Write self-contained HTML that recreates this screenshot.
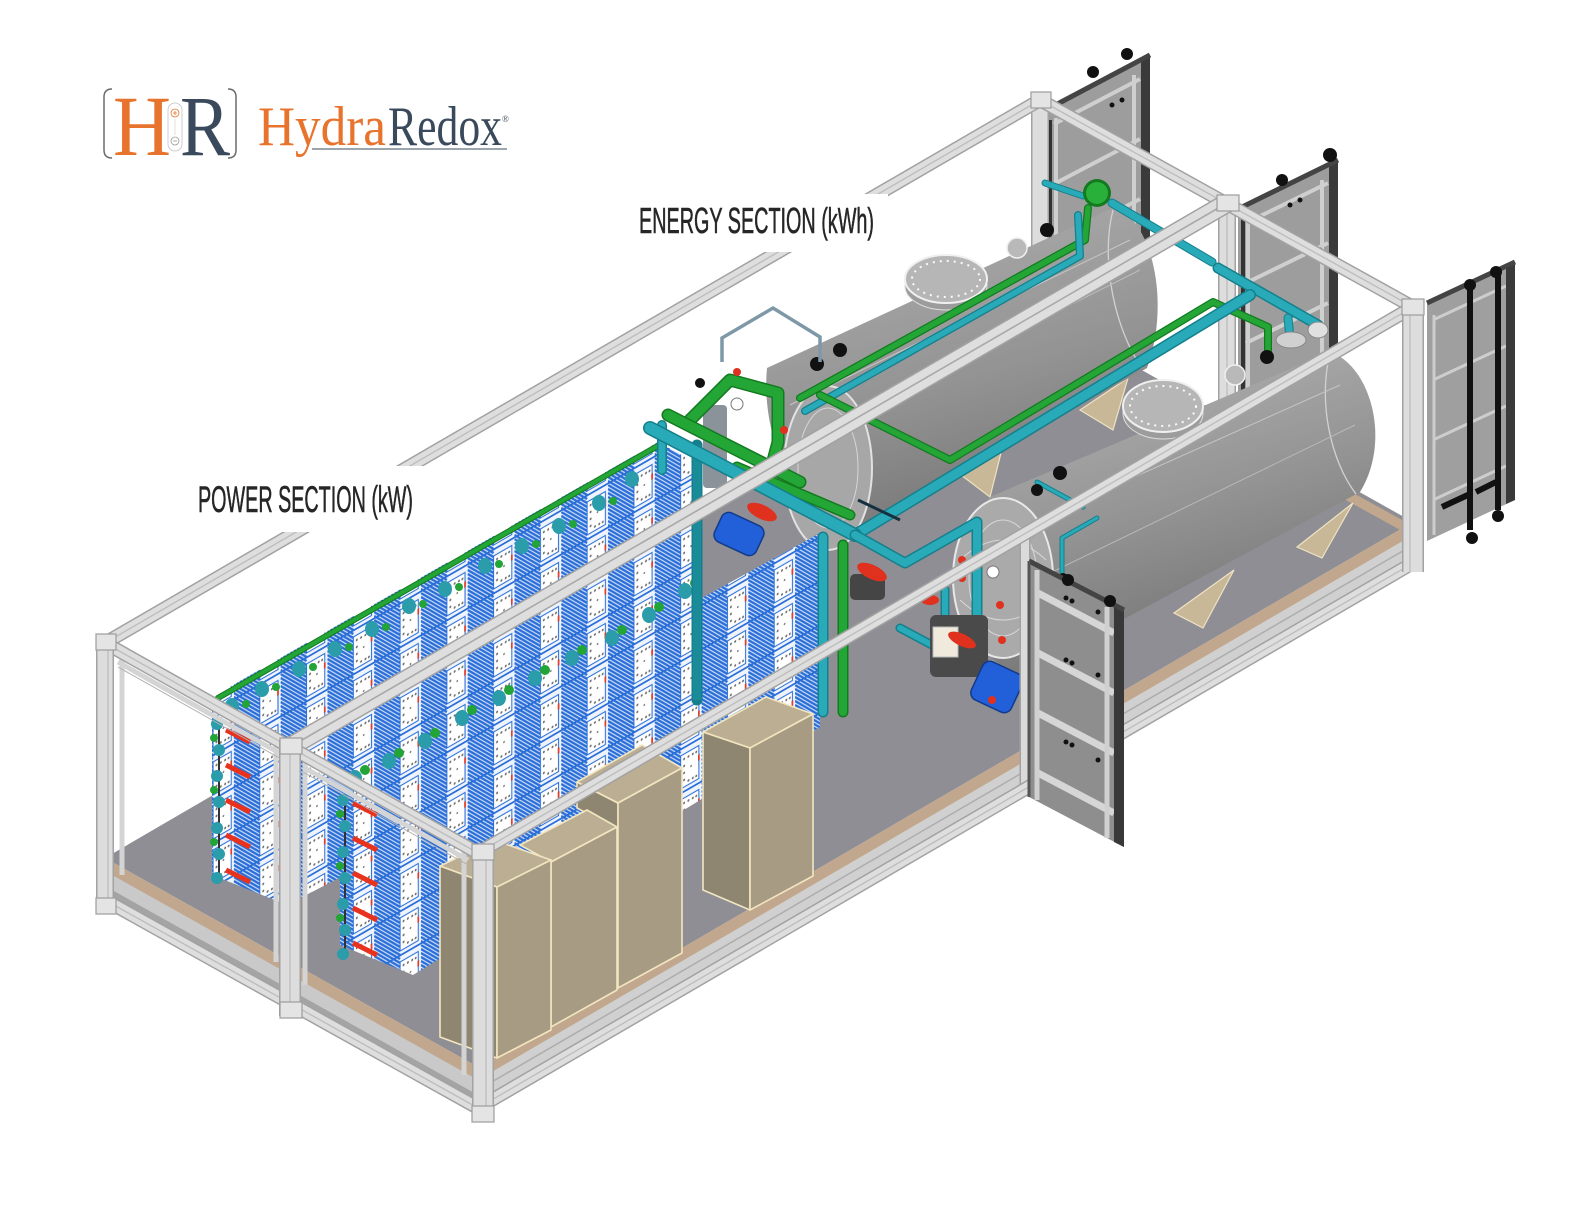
<!DOCTYPE html>
<html><head><meta charset="utf-8"><style>
html,body{margin:0;padding:0;background:#fff;}
svg{display:block;}
.ro{stroke:#a2a2a2;stroke-width:14;fill:none}
.ri{stroke:#dedede;stroke-width:11;fill:none}
.rl{stroke:#bcbcbc;stroke-width:1.3;fill:none}
.po{stroke:#a2a2a2;stroke-width:18}
.pi{stroke:#dddddd;stroke-width:15}
.pl{stroke:#bdbdbd;stroke-width:1.3}
.td{stroke:#157f8c;fill:none;stroke-linecap:round;stroke-linejoin:round}
.tm{stroke:#28aab9;fill:none;stroke-linecap:round;stroke-linejoin:round}
.gd{stroke:#137a20;fill:none;stroke-linecap:round;stroke-linejoin:round}
.gm{stroke:#24a636;fill:none;stroke-linecap:round;stroke-linejoin:round}
.cab{stroke:#f2e6c0;stroke-width:1.6;stroke-linejoin:round}
.sad{fill:#c8b898;stroke:#eee3c2;stroke-width:1.2}
.kn{fill:#111}
</style></head><body>
<svg width="1587" height="1206" viewBox="0 0 1587 1206" xmlns="http://www.w3.org/2000/svg">
<defs>
<linearGradient id="g1" gradientUnits="userSpaceOnUse" x1="900" y1="250" x2="970" y2="500">
<stop offset="0" stop-color="#a6a6a6"/><stop offset="0.55" stop-color="#939393"/><stop offset="1" stop-color="#7b7b7b"/></linearGradient>
<linearGradient id="g2" gradientUnits="userSpaceOnUse" x1="1150" y1="390" x2="1215" y2="610">
<stop offset="0" stop-color="#a8a8a8"/><stop offset="0.5" stop-color="#949494"/><stop offset="1" stop-color="#7c7c7c"/></linearGradient>
<pattern id="stk" patternUnits="userSpaceOnUse" width="54" height="44" patternTransform="matrix(0.866 -0.5 0 1 0 0)">
<rect width="54" height="44" fill="#eef3fc"/>
<path d="M0,-40L30,-10M0,-36L30,-6M0,-32L30,-2M0,-28L30,2M0,-24L30,6M0,-20L30,10M0,-16L30,14M0,-12L30,18M0,-8L30,22M0,-4L30,26M0,0L30,30M0,4L30,34M0,8L30,38M0,12L30,42M0,16L30,46M0,20L30,50M0,24L30,54M0,28L30,58M0,32L30,62M0,36L30,66M0,40L30,70" stroke="#2a6ed8" stroke-width="2"/>
<rect x="30" y="5" width="21" height="33" fill="#fff" stroke="#2a6ed8" stroke-width="1.2"/>
<g fill="#707070"><circle cx="34" cy="10" r="1.2"/><circle cx="39" cy="10" r="1.2"/><circle cx="44" cy="10" r="1.2"/><circle cx="48" cy="10" r="1.2"/><circle cx="34" cy="17" r="1.2"/><circle cx="34" cy="24" r="1.2"/><circle cx="34" cy="31" r="1.2"/><circle cx="39" cy="34" r="1.2"/><circle cx="44" cy="34" r="1.2"/><circle cx="48" cy="34" r="1.2"/><circle cx="42" cy="21" r="1"/></g>
<rect x="50" y="14" width="2" height="6" fill="#e0402a"/>
<path d="M0,42.5H54" stroke="#2a6ed8" stroke-width="2"/>
</pattern>
</defs>
<rect width="1587" height="1206" fill="#fff"/>

<!-- far doors -->
<g>
<polygon points="1046,110 1150,55 1150,300 1046,355" fill="#9d9d9d"/>
<g stroke="#cfcfcf" stroke-width="4"><line x1="1054" y1="124" x2="1140" y2="79"/><line x1="1054" y1="184" x2="1140" y2="139"/><line x1="1054" y1="244" x2="1140" y2="199"/><line x1="1056" y1="118" x2="1056" y2="340"/><line x1="1134" y1="75" x2="1134" y2="300"/></g>
<polygon points="1141,60 1150,55 1150,300 1141,305" fill="#3a3a3a"/>
<line x1="1046" y1="110" x2="1150" y2="55" stroke="#444" stroke-width="5"/>
<line x1="1050" y1="120" x2="1050" y2="330" stroke="#333" stroke-width="4"/>
<circle class="kn" cx="1093" cy="72" r="6"/><circle class="kn" cx="1127" cy="54" r="6"/>
<circle class="kn" cx="1112" cy="105" r="2.5"/><circle class="kn" cx="1122" cy="100" r="2.5"/><circle class="kn" cx="1130" cy="150" r="2.5"/>
</g>
<g>
<polygon points="1238,209 1338,160 1338,400 1238,449" fill="#9d9d9d"/>
<g stroke="#cfcfcf" stroke-width="4"><line x1="1246" y1="223" x2="1328" y2="183"/><line x1="1246" y1="283" x2="1328" y2="243"/><line x1="1246" y1="343" x2="1328" y2="303"/><line x1="1248" y1="218" x2="1248" y2="440"/><line x1="1322" y1="180" x2="1322" y2="400"/></g>
<polygon points="1329,165 1338,160 1338,400 1329,405" fill="#3a3a3a"/>
<line x1="1238" y1="209" x2="1338" y2="160" stroke="#444" stroke-width="5"/>
<line x1="1243" y1="215" x2="1243" y2="440" stroke="#333" stroke-width="4"/>
<circle class="kn" cx="1282" cy="180" r="6"/><circle class="kn" cx="1330" cy="155" r="7"/>
<circle class="kn" cx="1290" cy="205" r="2.5"/><circle class="kn" cx="1300" cy="200" r="2.5"/><circle class="kn" cx="1320" cy="250" r="2.5"/>
</g>
<g>
<polygon points="1427,303 1515,262 1515,500 1427,541" fill="#9f9f9f"/>
<g stroke="#cdcdcd" stroke-width="3"><line x1="1433" y1="320" x2="1506" y2="286"/><line x1="1433" y1="380" x2="1506" y2="346"/><line x1="1433" y1="440" x2="1506" y2="406"/><line x1="1433" y1="500" x2="1506" y2="466"/><line x1="1434" y1="315" x2="1434" y2="535"/></g>
<polygon points="1506,266 1515,262 1515,500 1506,504" fill="#3a3a3a"/>
<line x1="1427" y1="303" x2="1515" y2="262" stroke="#444" stroke-width="5"/>
<line x1="1470" y1="287" x2="1470" y2="530" stroke="#111" stroke-width="6"/>
<line x1="1498" y1="275" x2="1498" y2="510" stroke="#111" stroke-width="6"/>
<line x1="1442" y1="507" x2="1470" y2="494" stroke="#111" stroke-width="6"/>
<line x1="1476" y1="492" x2="1496" y2="482" stroke="#111" stroke-width="6"/>
<circle class="kn" cx="1470" cy="285" r="6"/><circle class="kn" cx="1496" cy="272" r="6"/><circle class="kn" cx="1472" cy="538" r="6"/><circle class="kn" cx="1498" cy="516" r="6"/>
</g>

<!-- far posts behind tanks -->
<line class="po" x1="1040" y1="100" x2="1040" y2="370"/><line class="pi" x1="1040" y1="100" x2="1040" y2="370"/>
<line class="po" x1="1227" y1="203" x2="1227" y2="470"/><line class="pi" x1="1227" y1="203" x2="1227" y2="470"/><line class="pl" x1="1227" y1="203" x2="1227" y2="470"/>

<!-- floor & base -->
<polygon points="105,858 478,1067 1413,522 1040,313" fill="#8f8e94"/>
<polygon points="105,870 478,1079 478,1113 105,905" fill="#c9c9c9"/>
<line x1="105" y1="890" x2="478" y2="1099" stroke="#a4a4a4" stroke-width="7"/>
<polygon points="478,1079 1413,534 1413,568 478,1113" fill="#d0d0d0"/>
<line x1="478" y1="1090" x2="1413" y2="545" stroke="#adadad" stroke-width="1.5"/>
<line x1="478" y1="1102" x2="1413" y2="557" stroke="#adadad" stroke-width="1.5"/>
<polygon points="105,858 478,1067 478,1080 105,871" fill="#c1a78d"/>
<polygon points="478,1067 1413,522 1413,535 478,1080" fill="#c1a78d"/>
<polygon points="1335,483 1413,526 1413,537 1335,494" fill="#c1a78d"/>

<!-- tank 1 -->
<polygon class="sad" points="1080,410 1128,378 1113,430"/>
<polygon class="sad" points="957,472 1003,445 990,497"/>
<path d="M767,368 L1113,208 C1150,215 1172,300 1147,368 L850,532 C800,525 760,440 767,368 Z" fill="url(#g1)"/>
<path d="M1113,210 C1100,260 1115,330 1142,368" stroke="#d2d2d2" stroke-width="1.3" fill="none"/>
<path d="M790,405 L1130,240" stroke="#c6c6c6" stroke-width="1" fill="none"/>
<path d="M800,440 L1140,270" stroke="#bdbdbd" stroke-width="1" fill="none"/>
<ellipse cx="828" cy="468" rx="44" ry="82" fill="#a7a7a7" stroke="#e2e2e2" stroke-width="2"/>
<ellipse cx="828" cy="468" rx="30" ry="60" fill="none" stroke="#d6d6d6" stroke-width="1"/>
<ellipse cx="946" cy="286" rx="41" ry="24" fill="#9c9c9c" stroke="#dedede"/>
<ellipse cx="946" cy="279" rx="41" ry="24" fill="#b6b6b6" stroke="#f0f0f0" stroke-width="2"/>
<ellipse cx="946" cy="279" rx="34" ry="18" fill="none" stroke="#fafafa" stroke-width="2" stroke-dasharray="2 5"/>
<circle cx="1017" cy="248" r="10" fill="#b9b9b9" stroke="#efefef" stroke-width="1.5"/>

<!-- tank 2 -->
<polygon class="sad" points="1297,547 1353,503 1322,558"/>
<polygon class="sad" points="1174,613 1234,570 1203,628"/>
<path d="M990,497 L1330,352 C1370,365 1392,440 1360,492 L1020,675 C965,660 945,560 990,497 Z" fill="url(#g2)"/>
<path d="M1330,354 C1318,400 1330,460 1356,494" stroke="#d2d2d2" stroke-width="1.3" fill="none"/>
<path d="M1005,535 L1340,385" stroke="#c4c4c4" stroke-width="1" fill="none"/>
<path d="M1015,590 L1355,425" stroke="#b8b8b8" stroke-width="1" fill="none"/>
<ellipse cx="1003" cy="578" rx="50" ry="80" fill="#aaaaaa" stroke="#e8e8e8" stroke-width="2"/>
<ellipse cx="1003" cy="578" rx="34" ry="58" fill="none" stroke="#d8d8d8" stroke-width="1"/>
<path d="M960,560 Q1003,520 1046,560 M960,600 Q1003,640 1046,600" stroke="#d8d8d8" fill="none"/>
<ellipse cx="1163" cy="413" rx="40" ry="26" fill="#9c9c9c" stroke="#dedede"/>
<ellipse cx="1163" cy="406" rx="40" ry="26" fill="#b6b6b6" stroke="#f0f0f0" stroke-width="2"/>
<ellipse cx="1163" cy="406" rx="33" ry="20" fill="none" stroke="#fafafa" stroke-width="2" stroke-dasharray="2 5"/>
<circle cx="1235" cy="375" r="10" fill="#b9b9b9" stroke="#efefef" stroke-width="1.5"/>

<!-- pipes on tanks -->
<path class="gd" stroke-width="8" d="M800,398 L1085,240 L1088,208"/>
<path class="gm" stroke-width="5.5" d="M800,398 L1085,240 L1088,208"/>
<path class="td" stroke-width="8" d="M805,411 L1080,256 L1078,215"/>
<path class="tm" stroke-width="5.5" d="M805,411 L1080,256 L1078,215"/>
<path class="td" stroke-width="7" d="M1045,183 L1083,196"/><path class="tm" stroke-width="5" d="M1045,183 L1083,196"/>
<circle cx="1097" cy="193" r="14" fill="#137a20"/><circle cx="1097" cy="193" r="11" fill="#28b03b"/>
<path class="td" stroke-width="9" d="M1112,203 L1212,262"/><path class="tm" stroke-width="7" d="M1112,203 L1212,262"/>
<path class="td" stroke-width="11" d="M1218,268 L1318,325"/><path class="tm" stroke-width="8" d="M1218,268 L1318,325"/>
<path class="td" stroke-width="9" d="M1288,318 L1290,338"/><path class="tm" stroke-width="7" d="M1288,318 L1290,338"/>
<ellipse cx="1291" cy="340" rx="15" ry="8" fill="#d0d0d0" stroke="#888"/>
<ellipse cx="1318" cy="330" rx="10" ry="8" fill="#e0e0e0" stroke="#888"/>
<path class="gd" stroke-width="8" d="M820,395 L950,460 L1213,302 L1268,327 L1268,352"/>
<path class="gm" stroke-width="5.5" d="M820,395 L950,460 L1213,302 L1268,327 L1268,352"/>
<path class="td" stroke-width="12" d="M855,535 L1250,295"/><path class="tm" stroke-width="9" d="M855,535 L1250,295"/>
<path class="td" stroke-width="5" d="M1037,482 L1083,507 M1097,518 L1062,538 L1062,572"/>
<path class="tm" stroke-width="3" d="M1037,482 L1083,507 M1097,518 L1062,538 L1062,572"/>
<path d="M858,500 L900,520" stroke="#163040" stroke-width="3"/>
<circle class="kn" cx="817" cy="364" r="7"/><circle class="kn" cx="840" cy="350" r="7"/>
<circle class="kn" cx="1047" cy="230" r="7"/><circle class="kn" cx="1060" cy="473" r="7"/><circle class="kn" cx="1037" cy="490" r="6"/>
<circle class="kn" cx="1267" cy="357" r="7"/><circle class="kn" cx="1063" cy="578" r="5"/>

<!-- far top rail -->
<line class="ro" x1="1040" y1="100" x2="1413" y2="307"/><line class="ri" x1="1040" y1="100" x2="1413" y2="307"/><line class="rl" x1="1040" y1="100" x2="1413" y2="307"/>

<!-- back-left long top rail -->
<line class="ro" x1="105" y1="643" x2="1040" y2="100"/><line class="ri" x1="105" y1="643" x2="1040" y2="100"/><line class="rl" x1="105" y1="643" x2="1040" y2="100"/>

<!-- stacks -->
<polygon points="212,697 658,442 700,465 700,690 287,905 212,875" fill="url(#stk)"/>
<polygon points="340,797 820,533 820,727 413,975 340,945" fill="url(#stk)"/>
<path class="gd" stroke-width="6" d="M218,698 L668,440"/><path class="gm" stroke-width="4" d="M218,698 L668,440"/>
<g fill="#2a9caa">
<ellipse cx="232" cy="706" rx="7" ry="8"/><ellipse cx="262" cy="689" rx="7" ry="8"/><ellipse cx="299" cy="669" rx="7" ry="8"/><ellipse cx="335" cy="649" rx="7" ry="8"/><ellipse cx="372" cy="629" rx="7" ry="8"/><ellipse cx="409" cy="606" rx="7" ry="8"/><ellipse cx="445" cy="589" rx="7" ry="8"/><ellipse cx="485" cy="566" rx="7" ry="8"/><ellipse cx="522" cy="546" rx="7" ry="8"/><ellipse cx="559" cy="526" rx="7" ry="8"/><ellipse cx="599" cy="503" rx="7" ry="8"/><ellipse cx="632" cy="479" rx="7" ry="8"/>
<ellipse cx="355" cy="778" rx="7" ry="8"/><ellipse cx="389" cy="761" rx="7" ry="8"/><ellipse cx="425" cy="741" rx="7" ry="8"/><ellipse cx="462" cy="718" rx="7" ry="8"/><ellipse cx="499" cy="698" rx="7" ry="8"/><ellipse cx="535" cy="678" rx="7" ry="8"/><ellipse cx="572" cy="658" rx="7" ry="8"/><ellipse cx="612" cy="638" rx="7" ry="8"/><ellipse cx="649" cy="615" rx="7" ry="8"/><ellipse cx="685" cy="591" rx="7" ry="8"/>
</g>
<g fill="#22a536">
<circle cx="246" cy="704" r="4"/><circle cx="276" cy="687" r="4"/><circle cx="313" cy="667" r="4"/><circle cx="349" cy="647" r="4"/><circle cx="386" cy="627" r="4"/><circle cx="423" cy="604" r="4"/><circle cx="459" cy="587" r="4"/><circle cx="499" cy="564" r="4"/><circle cx="536" cy="544" r="4"/><circle cx="573" cy="524" r="4"/><circle cx="613" cy="501" r="4"/>
<circle cx="365" cy="770" r="5"/><circle cx="399" cy="753" r="5"/><circle cx="435" cy="733" r="5"/><circle cx="472" cy="710" r="5"/><circle cx="509" cy="690" r="5"/><circle cx="545" cy="670" r="5"/><circle cx="582" cy="650" r="5"/><circle cx="622" cy="630" r="5"/><circle cx="659" cy="607" r="5"/><circle cx="695" cy="583" r="5"/>
</g>
<!-- end-face valves & red bars -->
<line x1="219" y1="718" x2="219" y2="882" stroke="#333" stroke-width="2"/>
<line x1="345" y1="795" x2="345" y2="958" stroke="#333" stroke-width="2"/>
<g fill="#2a9caa">
<circle cx="217" cy="724" r="6"/><circle cx="219" cy="750" r="6"/><circle cx="217" cy="776" r="6"/><circle cx="219" cy="802" r="6"/><circle cx="217" cy="828" r="6"/><circle cx="219" cy="854" r="6"/><circle cx="217" cy="878" r="6"/>
<circle cx="343" cy="800" r="6"/><circle cx="345" cy="826" r="6"/><circle cx="343" cy="852" r="6"/><circle cx="345" cy="878" r="6"/><circle cx="343" cy="904" r="6"/><circle cx="345" cy="930" r="6"/><circle cx="343" cy="954" r="6"/>
</g>
<g fill="#22a536"><circle cx="214" cy="738" r="4"/><circle cx="214" cy="790" r="4"/><circle cx="214" cy="842" r="4"/><circle cx="340" cy="814" r="4"/><circle cx="340" cy="866" r="4"/><circle cx="340" cy="918" r="4"/></g>
<g stroke="#e8321e" stroke-width="5">
<line x1="226" y1="730" x2="250" y2="742"/><line x1="226" y1="765" x2="250" y2="777"/><line x1="226" y1="800" x2="250" y2="812"/><line x1="226" y1="835" x2="250" y2="847"/><line x1="226" y1="870" x2="250" y2="882"/>
<line x1="353" y1="803" x2="377" y2="815"/><line x1="353" y1="838" x2="377" y2="850"/><line x1="353" y1="873" x2="377" y2="885"/><line x1="353" y1="908" x2="377" y2="920"/><line x1="353" y1="943" x2="377" y2="955"/>
</g>

<!-- manifold -->
<path d="M722,362 V338 L773,308 L820,337 V362" stroke="#7f98a8" stroke-width="3.5" fill="none"/>
<rect x="703" y="405" width="24" height="83" rx="4" fill="#8a929a"/>
<path class="td" stroke-width="11" d="M697,445 V700"/><path stroke="#1a8c99" stroke-width="8" fill="none" d="M697,445 V700"/>
<path class="td" stroke-width="10" d="M662,425 V470"/><path class="tm" stroke-width="7" d="M662,425 V470"/>
<path class="td" stroke-width="11" d="M823,537 V712"/><path class="tm" stroke-width="8" d="M823,537 V712"/>
<path class="gd" stroke-width="11" d="M843,545 V712"/><path class="gm" stroke-width="8" d="M843,545 V712"/>
<path class="gd" stroke-width="13" d="M690,420 L730,380 L778,393 L778,442 L770,472"/>
<path class="gm" stroke-width="10" d="M690,420 L730,380 L778,393 L778,442 L770,472"/>
<path class="gd" stroke-width="13" d="M668,415 L800,482"/><path class="gm" stroke-width="10" d="M668,415 L800,482"/>
<path class="gd" stroke-width="11" d="M737,467 L850,515"/><path class="gm" stroke-width="8" d="M737,467 L850,515"/>
<path class="td" stroke-width="14" d="M650,428 L855,535"/><path class="tm" stroke-width="11" d="M650,428 L855,535"/>
<path class="td" stroke-width="11" d="M855,535 L905,563 L977,522 L977,665"/><path class="tm" stroke-width="8" d="M855,535 L905,563 L977,522 L977,665"/>
<path class="td" stroke-width="9" d="M900,628 L945,652 M945,590 L945,640"/><path class="tm" stroke-width="6" d="M900,628 L945,652 M945,590 L945,640"/>
<rect x="850" y="574" width="35" height="26" rx="5" fill="#454545"/>
<rect x="930" y="615" width="58" height="62" rx="6" fill="#4a4a4a"/>
<rect x="933" y="627" width="25" height="30" fill="#efeadc" stroke="#bbb"/>
<rect x="716" y="518" width="46" height="32" rx="8" fill="#2160d8" stroke="#123a8a" stroke-width="1.5" transform="rotate(25 739 534)"/>
<rect x="975" y="666" width="44" height="42" rx="8" fill="#2160d8" stroke="#123a8a" stroke-width="1.5" transform="rotate(25 997 687)"/>
<g fill="#e0301e">
<ellipse cx="762" cy="512" rx="16" ry="7" transform="rotate(25 762 512)"/>
<ellipse cx="872" cy="572" rx="16" ry="7" transform="rotate(25 872 572)"/>
<ellipse cx="962" cy="640" rx="15" ry="6" transform="rotate(25 962 640)"/>
<ellipse cx="930" cy="600" rx="9" ry="5"/>
<circle cx="737" cy="372" r="4"/><circle cx="784" cy="430" r="4"/><circle cx="786" cy="452" r="4"/>
<circle cx="962" cy="560" r="4"/><circle cx="962" cy="578" r="4"/><circle cx="1000" cy="605" r="4"/><circle cx="1002" cy="640" r="4"/><circle cx="992" cy="700" r="4"/>
</g>
<circle cx="737" cy="404" r="6" fill="#fff" stroke="#777"/>
<circle cx="993" cy="572" r="6" fill="#fff" stroke="#777"/>
<circle class="kn" cx="700" cy="383" r="5"/>

<!-- cabinets -->
<polygon class="cab" points="703,732 766,697 813,714 750,748" fill="#bcae93"/>
<polygon class="cab" points="703,732 750,748 750,910 703,890" fill="#8f8672"/>
<polygon class="cab" points="750,748 813,714 813,876 750,910" fill="#a79b84"/>
<polygon class="cab" points="577,782 618,803 618,830 577,808" fill="#8f8672"/>
<polygon class="cab" points="577,782 642,745 682,768 618,803" fill="#bcae93"/>
<polygon class="cab" points="618,803 682,768 682,953 618,988" fill="#a79b84"/>
<polygon class="cab" points="520,845 587,810 617,827 551,862" fill="#bcae93"/>
<polygon class="cab" points="551,862 617,827 617,990 551,1027" fill="#a79b84"/>
<polygon class="cab" points="440,866 494,840 551,860 497,887" fill="#bcae93"/>
<polygon class="cab" points="440,866 497,887 497,1058 440,1037" fill="#8f8672"/>
<polygon class="cab" points="497,887 551,860 551,1030 497,1058" fill="#a79b84"/>

<!-- side intermediate post -->
<line x1="1025" y1="533" x2="1025" y2="790" stroke="#a2a2a2" stroke-width="11"/>
<line x1="1025" y1="533" x2="1025" y2="790" stroke="#dadada" stroke-width="8"/>

<!-- front inner frames -->
<g stroke="#d4d4d4" stroke-width="5">
<line x1="118" y1="662" x2="283" y2="755"/><line x1="303" y1="767" x2="468" y2="860"/>
<line x1="122" y1="655" x2="122" y2="875"/><line x1="276" y1="745" x2="276" y2="962"/>
<line x1="305" y1="760" x2="305" y2="985"/><line x1="464" y1="850" x2="464" y2="1075"/>
</g>
<g stroke="#b0b0b0" stroke-width="1"><line x1="118" y1="667" x2="283" y2="760"/><line x1="303" y1="772" x2="468" y2="865"/></g>

<!-- bottom rails -->
<line class="ro" x1="105" y1="900" x2="478" y2="1108"/><line class="ri" x1="105" y1="900" x2="478" y2="1108"/><line class="rl" x1="105" y1="900" x2="478" y2="1108"/>
<line class="ro" x1="478" y1="1108" x2="1413" y2="563"/><line class="ri" x1="478" y1="1108" x2="1413" y2="563"/><line class="rl" x1="478" y1="1108" x2="1413" y2="563"/>

<!-- top rails front -->
<line class="ro" x1="290" y1="747" x2="1227" y2="203" style="stroke-width:20"/><line class="ri" x1="290" y1="747" x2="1227" y2="203" style="stroke-width:17"/><line x1="290" y1="747" x2="1227" y2="203" stroke="#a9a9a9" stroke-width="1.6"/>
<line class="ro" x1="478" y1="853" x2="1413" y2="307"/><line class="ri" x1="478" y1="853" x2="1413" y2="307"/><line class="rl" x1="478" y1="853" x2="1413" y2="307"/>
<line class="ro" x1="105" y1="643" x2="478" y2="853"/><line class="ri" x1="105" y1="643" x2="478" y2="853"/><line class="rl" x1="105" y1="643" x2="478" y2="853"/>

<!-- posts -->
<line class="po" x1="105" y1="636" x2="105" y2="910"/><line class="pi" x1="105" y1="636" x2="105" y2="910"/><line class="pl" x1="108" y1="636" x2="108" y2="910"/>
<line class="po" x1="290" y1="740" x2="290" y2="1016" style="stroke-width:22"/><line class="pi" x1="290" y1="740" x2="290" y2="1016" style="stroke-width:19"/><line class="pl" x1="290" y1="740" x2="290" y2="1016"/>
<line class="po" x1="483" y1="846" x2="483" y2="1120" style="stroke-width:22"/><line class="pi" x1="483" y1="846" x2="483" y2="1120" style="stroke-width:19"/><line class="pl" x1="486" y1="846" x2="486" y2="1120"/>
<line class="po" x1="1413" y1="300" x2="1413" y2="572" style="stroke-width:22"/><line class="pi" x1="1413" y1="300" x2="1413" y2="572" style="stroke-width:19"/><line class="pl" x1="1410" y1="300" x2="1410" y2="572"/>
<g fill="#e4e4e4" stroke="#9d9d9d" stroke-width="1.2">
<rect x="96" y="634" width="20" height="16"/><rect x="280" y="738" width="22" height="16"/><rect x="472" y="844" width="22" height="16"/>
<rect x="1031" y="92" width="20" height="16"/><rect x="1217" y="195" width="22" height="16"/><rect x="1402" y="299" width="22" height="16"/>
<rect x="96" y="898" width="20" height="16"/><rect x="280" y="1002" width="22" height="16"/><rect x="472" y="1106" width="22" height="16"/>
</g>

<!-- front door -->
<g>
<polygon points="1029,561 1124,610 1124,847 1029,797" fill="#8e8e8e"/>
<g stroke="#d6d6d6" stroke-width="7"><line x1="1036" y1="592" x2="1114" y2="633"/><line x1="1036" y1="652" x2="1114" y2="693"/><line x1="1036" y1="712" x2="1114" y2="753"/><line x1="1036" y1="772" x2="1114" y2="813"/></g>
<g stroke="#d0d0d0" stroke-width="5"><line x1="1037" y1="570" x2="1037" y2="800"/><line x1="1107" y1="607" x2="1107" y2="838"/></g>
<polygon points="1114,605 1124,610 1124,847 1114,842" fill="#383838"/>
<line x1="1029" y1="561" x2="1124" y2="610" stroke="#444" stroke-width="5"/>
<line x1="1029" y1="561" x2="1029" y2="797" stroke="#555" stroke-width="3"/>
<circle class="kn" cx="1068" cy="580" r="6"/><circle class="kn" cx="1110" cy="601" r="6"/>
<g class="kn"><circle cx="1066" cy="598" r="2.5"/><circle cx="1072" cy="601" r="2.5"/><circle cx="1098" cy="612" r="2.5"/><circle cx="1066" cy="660" r="2.5"/><circle cx="1072" cy="663" r="2.5"/><circle cx="1098" cy="675" r="2.5"/><circle cx="1066" cy="742" r="2.5"/><circle cx="1072" cy="745" r="2.5"/><circle cx="1098" cy="760" r="2.5"/></g>
</g>

<!-- labels -->
<rect x="628" y="194" width="260" height="58" fill="#fff"/>
<rect x="188" y="466" width="237" height="66" fill="#fff"/>
<text x="639" y="233" font-family="'Liberation Sans Narrow','Liberation Sans',sans-serif" font-size="36" fill="#262626" stroke="#262626" stroke-width="0.6" textLength="235" lengthAdjust="spacingAndGlyphs">ENERGY SECTION (kWh)</text>
<text x="198" y="512" font-family="'Liberation Sans Narrow','Liberation Sans',sans-serif" font-size="37" fill="#262626" stroke="#262626" stroke-width="0.6" textLength="215" lengthAdjust="spacingAndGlyphs">POWER SECTION (kW)</text>

<!-- logo -->
<path d="M112,89 Q104,89 104,97 L104,150 Q104,158 112,158" stroke="#6b6b6b" stroke-width="1.5" fill="none"/>
<path d="M228,89 Q236,89 236,97 L236,150 Q236,158 228,158" stroke="#6b6b6b" stroke-width="1.5" fill="none"/>
<text x="113" y="155" font-family="'Liberation Serif',serif" font-size="86" fill="#e8732c" textLength="58" lengthAdjust="spacingAndGlyphs">H</text>
<text x="180" y="155" font-family="'Liberation Serif',serif" font-size="86" fill="#3a4a5c" textLength="50" lengthAdjust="spacingAndGlyphs">R</text>
<rect x="168" y="103" width="14" height="48" rx="7" fill="#fff" stroke="#c4c4c4" stroke-width="0.8"/>
<circle cx="175" cy="113" r="4" fill="none" stroke="#e8732c" stroke-width="0.8"/>
<path d="M173,113 H177 M175,111 V115" stroke="#e8732c" stroke-width="0.8"/>
<circle cx="175" cy="141" r="4" fill="none" stroke="#999" stroke-width="0.8"/>
<path d="M173,141 H177" stroke="#999" stroke-width="0.8"/>
<line x1="175" y1="119" x2="175" y2="135" stroke="#ccc" stroke-width="0.6"/>
<text x="258" y="145" font-family="'Liberation Serif',serif" font-size="56" fill="#e8732c" textLength="128" lengthAdjust="spacingAndGlyphs">Hydra</text>
<text x="388" y="145" font-family="'Liberation Serif',serif" font-size="56" fill="#3a4a5c" textLength="114" lengthAdjust="spacingAndGlyphs">Redox</text>
<text x="502" y="122" font-family="'Liberation Serif',serif" font-size="9" fill="#3a4a5c">®</text>
<line x1="312" y1="149" x2="507" y2="149" stroke="#7c8590" stroke-width="1.5"/>
</svg>
</body></html>
